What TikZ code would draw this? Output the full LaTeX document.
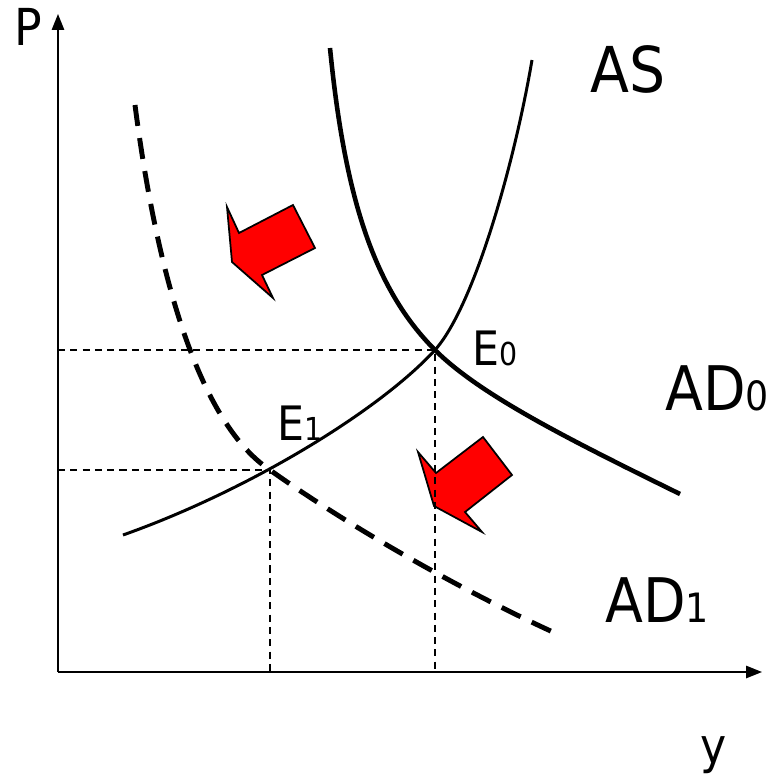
\documentclass[tikz,border=0pt]{standalone}
\usepackage{fontspec}
\setmainfont{DejaVu Sans Condensed}
\usetikzlibrary{arrows.meta}
\definecolor{shiftred}{HTML}{FF0000}

\begin{document}
\begin{tikzpicture}[
    x=0.02cm, y=-0.02cm,
    axis/.style={line width=0.9pt, -{Triangle[length=9pt, width=7pt]}},
    guide/.style={line width=0.8pt, dash pattern=on 4pt off 3pt},
    ascurve/.style={line width=1.7pt},
    adcurve/.style={line width=2.6pt},
    adshift/.style={line width=2.8pt, dash pattern=on 12pt off 7pt},
    shiftarrow/.style={fill=shiftred, draw=black, line width=1pt, line join=miter},
    lbl/.style={inner sep=0pt, anchor=base west}
]
\useasboundingbox (0,0) rectangle (771,778);
% axes
\coordinate (O) at (58,672);
\coordinate (Ptip) at (58,14);
\coordinate (ytip) at (762,672);
\coordinate (E0) at (435,350);
\coordinate (E1) at (270,470);
\draw[axis] (O) -- (Ptip);
\draw[axis] (O) -- (ytip);
% shift arrows
\draw[shiftarrow] (227,207) -- (239,233) -- (293,205) -- (315,248) -- (262,275) -- (273,298) -- (232,262) -- cycle;
\draw[shiftarrow] (418,452) -- (436,473) -- (483,437) -- (512,475) -- (465,512) -- (482,532) -- (434,506) -- cycle;
% guides
\draw[guide] (O |- E0) -- (E0) -- (E0 |- O);
\draw[guide] (O |- E1) -- (E1) -- (E1 |- O);
% curves
\draw[ascurve] (123,535) .. controls (250,490) and (380,410) .. (E0)
  .. controls (475,305) and (515,160) .. (532,60);
\draw[adcurve] (330,48) .. controls (345,200) and (375,290) .. (E0)
  .. controls (480,395) and (570,440) .. (680,494);
\draw[adshift] (135,105) .. controls (155,260) and (195,420) .. (E1)
  .. controls (340,520) and (450,585) .. (555,633);
% labels
\node[lbl] (Plbl) at (14,45) {\fontsize{29}{32}\selectfont P};
\node[lbl] (ylbl) at (700,763) {\fontsize{28}{32}\selectfont y};
\node[lbl] (ASlbl) at (590,92) {\fontsize{36}{40}\selectfont AS};
\node[lbl] (AD0lbl) at (665,410) {\fontsize{35}{40}\selectfont AD{\fontsize{23}{26}\selectfont 0}};
\node[lbl] (AD1lbl) at (605,622) {\fontsize{35}{40}\selectfont AD{\fontsize{23}{26}\selectfont 1}};
\node[lbl] (E0lbl) at (472,365) {\fontsize{27}{30}\selectfont E{\fontsize{18}{20}\selectfont 0}};
\node[lbl] (E1lbl) at (277,440) {\fontsize{27}{30}\selectfont E{\fontsize{18}{20}\selectfont 1}};
\end{tikzpicture}
\end{document}
